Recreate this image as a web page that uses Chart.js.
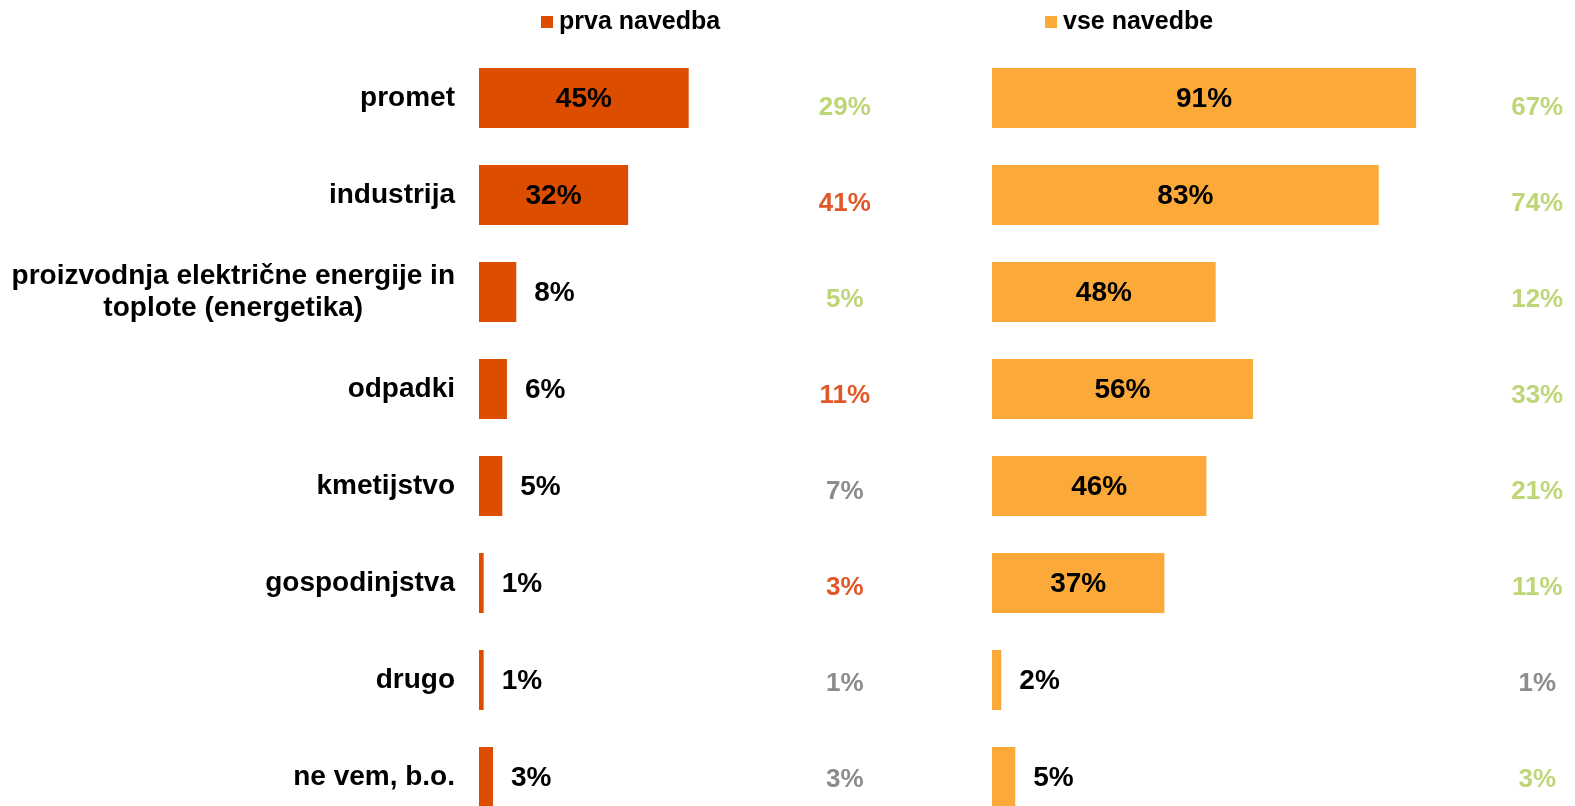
<!DOCTYPE html>
<html>
<head>
<meta charset="utf-8">
<script src="https://cdn.jsdelivr.net/npm/chart.js@4"></script>
<style>
    html, body { margin: 0; padding: 0; background: #fff; overflow: hidden; }
    #wrap { position: relative; width: 1575px; height: 806px; }
    .box { position: absolute; top: 0; height: 830px; }
</style>
</head>
<body>
<div id="wrap">
    <div class="box" style="left:0; width:960px;"><canvas id="LeftChart"></canvas></div>
    <div class="box" style="left:992px; width:583px;"><canvas id="RightChart"></canvas></div>
</div>
<script>
const categories = [
    'promet',
    'industrija',
    ['proizvodnja električne energije in', 'toplote (energetika)'],
    'odpadki',
    'kmetijstvo',
    'gospodinjstva',
    'drugo',
    'ne vem, b.o.'
];
const prva_data = [45, 32, 8, 6, 5, 1, 1, 3];
const vse_data = [91, 83, 48, 56, 46, 37, 2, 5];
// comparison values shown next to each panel
const prva_compare = [29, 41, 5, 11, 7, 3, 1, 3];
const vse_compare = [67, 74, 12, 33, 21, 11, 1, 3];
const prva_compare_col = ['g', 'r', 'g', 'r', 'n', 'r', 'n', 'n'];
const vse_compare_col = ['g', 'g', 'g', 'g', 'g', 'g', 'n', 'g'];

const FONT = "'Liberation Sans', Arial, sans-serif";
const DARK = 'rgb(221, 77, 0)';
const LIGHT = 'rgb(251, 170, 58)';
const cmpColors = { g: 'rgb(190, 214, 120)', r: 'rgb(224, 88, 40)', n: 'rgb(140, 140, 140)' };
const PX_PER_PCT = 4.66;

const barLabels = {
    id: 'barLabels',
    afterDatasetsDraw(chart, args, opts) {
        const ctx = chart.ctx;
        const meta = chart.getDatasetMeta(0);
        const data = chart.data.datasets[0].data;
        const yc = chart.scales.yc;
        const x = chart.scales.x;
        ctx.save();
        ctx.textBaseline = 'middle';
        meta.data.forEach((bar, i) => {
            ctx.font = 'bold 28px ' + FONT;
            ctx.fillStyle = '#000';
            if (data[i] >= 20) {
                ctx.textAlign = 'center';
                ctx.fillText(data[i] + '%', (bar.x + bar.base) / 2, bar.y + 1);
            } else {
                ctx.textAlign = 'left';
                ctx.fillText(data[i] + '%', bar.x + 18, bar.y + 1);
            }
            // comparison column
            ctx.textAlign = 'center';
            ctx.fillStyle = cmpColors[opts.colors[i]];
            ctx.font = 'bold 26px ' + FONT;
            ctx.fillText(opts.compare[i] + '%', x.getPixelForValue(opts.compareAt), yc.getPixelForValue(i));
        });
        // legend
        const lx = chart.chartArea.left + opts.legendOffset;
        ctx.fillStyle = chart.data.datasets[0].backgroundColor;
        ctx.fillRect(lx, 16, 12, 12);
        ctx.fillStyle = '#000';
        ctx.textAlign = 'left';
        ctx.font = 'bold 25px ' + FONT;
        ctx.fillText(chart.data.datasets[0].label, lx + 18, 22);
        ctx.restore();
    }
};

const catLabels = {
    id: 'catLabels',
    afterDraw(chart) {
        if (!chart.options.plugins.catLabels.show) return;
        const ctx = chart.ctx;
        const y = chart.scales.y;
        const right = chart.chartArea.left - 24;
        ctx.save();
        ctx.font = 'bold 28px ' + FONT;
        ctx.fillStyle = '#000';
        ctx.textBaseline = 'middle';
        categories.forEach((c, i) => {
            const cy = y.getPixelForValue(i);
            if (Array.isArray(c)) {
                const w = Math.max(...c.map(s => ctx.measureText(s).width));
                ctx.textAlign = 'center';
                c.forEach((s, k) => {
                    ctx.fillText(s, right - w / 2, cy + (k - (c.length - 1) / 2) * 32);
                });
            } else {
                ctx.textAlign = 'right';
                ctx.fillText(c, right, cy);
            }
        });
        ctx.restore();
    }
};

function makeConfig(label, data, color, compare, colors, padLeft, width, compareAt, legendOffset, showCats) {
    return {
        type: 'bar',
        data: {
            labels: categories.map(c => Array.isArray(c) ? c.join(' ') : c),
            datasets: [{
                label: label,
                data: data,
                backgroundColor: color,
                borderWidth: 0,
                categoryPercentage: 1,
                barPercentage: 0.62
            }]
        },
        options: {
            indexAxis: 'y',
            responsive: true,
            maintainAspectRatio: false,
            animation: false,
            layout: { padding: { left: padLeft, right: 0, top: 49.5, bottom: 4.5 } },
            scales: {
                x: { display: false, min: 0, max: width / PX_PER_PCT },
                y: { display: false },
                // helper axis for the comparison column, which sits on its own row grid
                yc: { type: 'linear', display: false, reverse: true, offset: false, bounds: 'data',
                      min: -0.61, max: 7.48 }
            },
            plugins: {
                legend: { display: false },
                tooltip: { enabled: false },
                barLabels: { compare: compare, colors: colors, compareAt: compareAt, legendOffset: legendOffset },
                catLabels: { show: showCats }
            }
        },
        plugins: [barLabels, catLabels]
    };
}

const LeftChart = new Chart(
    document.getElementById('LeftChart'),
    makeConfig('prva navedba', prva_data, DARK, prva_compare, prva_compare_col, 479, 481, 78.5, 62, true)
);

const RightChart = new Chart(
    document.getElementById('RightChart'),
    makeConfig('vse navedbe', vse_data, LIGHT, vse_compare, vse_compare_col, 0, 583, 117, 53, false)
);
</script>
</body>
</html>
